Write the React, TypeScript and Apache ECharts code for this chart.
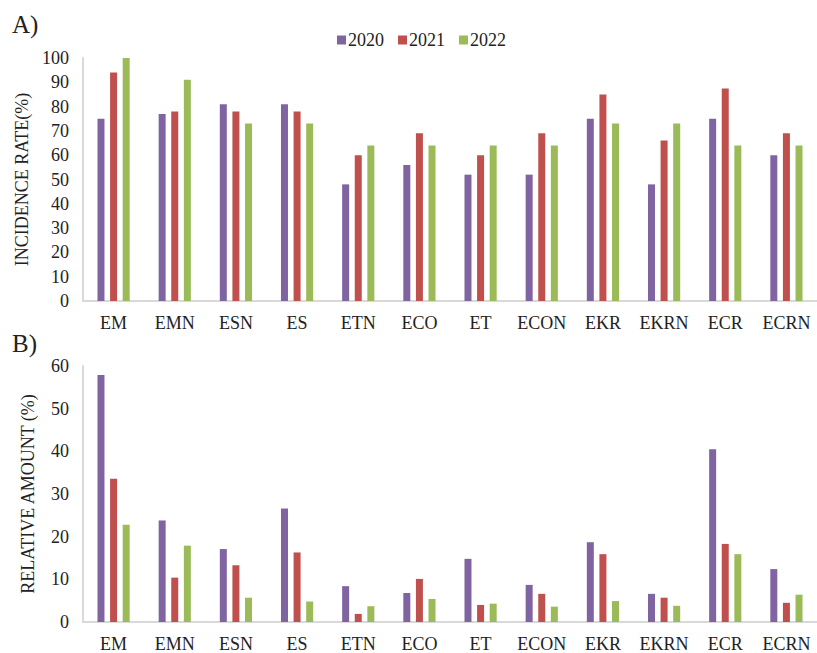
import React, { useEffect, useRef } from "react";
import * as echarts from "echarts";

const categories = ["EM", "EMN", "ESN", "ES", "ETN", "ECO", "ET", "ECON", "EKR", "EKRN", "ECR", "ECRN"];
const years = ["2020", "2021", "2022"];
const colors = ["#8064A2", "#C0504D", "#9BBB59"];

// A) Incidence rate (%)
const incidence2020 = [75, 77, 81, 81, 48, 56, 52, 52, 75, 48, 75, 60];
const incidence2021 = [94, 78, 78, 78, 60, 69, 60, 69, 85, 66, 87.5, 69];
const incidence2022 = [100, 91, 73, 73, 64, 64, 64, 64, 73, 73, 64, 64];

// B) Relative amount (%)
const relative2020 = [57.9, 23.8, 17.1, 26.6, 8.4, 6.8, 14.8, 8.7, 18.7, 6.6, 40.5, 12.4];
const relative2021 = [33.6, 10.4, 13.3, 16.3, 1.9, 10.1, 4.0, 6.6, 15.9, 5.7, 18.3, 4.5];
const relative2022 = [22.8, 17.9, 5.7, 4.8, 3.7, 5.4, 4.3, 3.6, 4.9, 3.8, 15.9, 6.4];

const topTicks = { min: 0, max: 100, interval: 10 };
const bottomTicks = { min: 0, max: 60, interval: 10 };

const FONT = "Liberation Serif";

export default function App() {
  const ref = useRef<HTMLDivElement>(null);

  useEffect(() => {
    if (!ref.current) return;
    const chart = echarts.init(ref.current, undefined, { renderer: "svg" });

    const axisLine = { show: true, lineStyle: { color: "#d9d9d9", width: 2 } };
    const xAxisBase = {
      type: "category" as const,
      data: categories,
      axisLine,
      axisTick: { show: false },
      axisLabel: { color: "#222", fontFamily: FONT, fontSize: 18, margin: 13, interval: 0 },
      splitLine: { show: false },
    };
    const yAxisBase = (name: string, t: { min: number; max: number; interval: number }) => ({
      type: "value" as const,
      min: t.min,
      max: t.max,
      interval: t.interval,
      name,
      nameLocation: "middle" as const,
      nameGap: 46,
      nameRotate: 90,
      nameTextStyle: { color: "#222", fontFamily: FONT, fontSize: 18 },
      axisLine,
      axisTick: { show: false },
      splitLine: { show: false },
      axisLabel: { color: "#222", fontFamily: FONT, fontSize: 18, margin: 14 },
    });

    const topData = [incidence2020, incidence2021, incidence2022];
    const bottomData = [relative2020, relative2021, relative2022];

    const series: any[] = [];
    topData.forEach((d, i) => {
      series.push({
        name: years[i],
        type: "bar",
        xAxisIndex: 0,
        yAxisIndex: 0,
        data: d,
        barWidth: 7,
        barGap: "80%",
        itemStyle: { color: colors[i] },
      });
    });
    bottomData.forEach((d, i) => {
      series.push({
        name: years[i],
        type: "bar",
        xAxisIndex: 1,
        yAxisIndex: 1,
        data: d,
        barWidth: 7,
        barGap: "80%",
        itemStyle: { color: colors[i] },
      });
    });

    chart.setOption({
      animation: false,
      backgroundColor: "#fff",
      textStyle: { fontFamily: FONT },
      legend: {
        data: years,
        left: 332,
        top: 26,
        itemWidth: 9,
        itemHeight: 9,
        itemGap: 14,
        icon: "rect",
        textStyle: { color: "#222", fontFamily: FONT, fontSize: 18, padding: [0, 0, 0, -3] },
      },
      graphic: [
        { type: "text", left: 12, top: 12, style: { text: "A)", fontFamily: FONT, fontSize: 25, fill: "#222" } },
        { type: "text", left: 12, top: 331, style: { text: "B)", fontFamily: FONT, fontSize: 25, fill: "#222" } },
      ],
      grid: [
        { left: 83, right: -7, top: 58, height: 243 },
        { left: 83, right: -7, top: 366, height: 257 },
      ],
      xAxis: [
        { ...xAxisBase, gridIndex: 0 },
        { ...xAxisBase, gridIndex: 1 },
      ],
      yAxis: [
        { ...yAxisBase("INCIDENCE RATE(%)", topTicks), gridIndex: 0 },
        { ...yAxisBase("RELATIVE AMOUNT (%)", bottomTicks), gridIndex: 1 },
      ],
      series,
    });

    return () => chart.dispose();
  }, []);

  return <div ref={ref} style={{ width: 817, height: 653, position: "absolute", left: 0, top: 0 }} />;
}
